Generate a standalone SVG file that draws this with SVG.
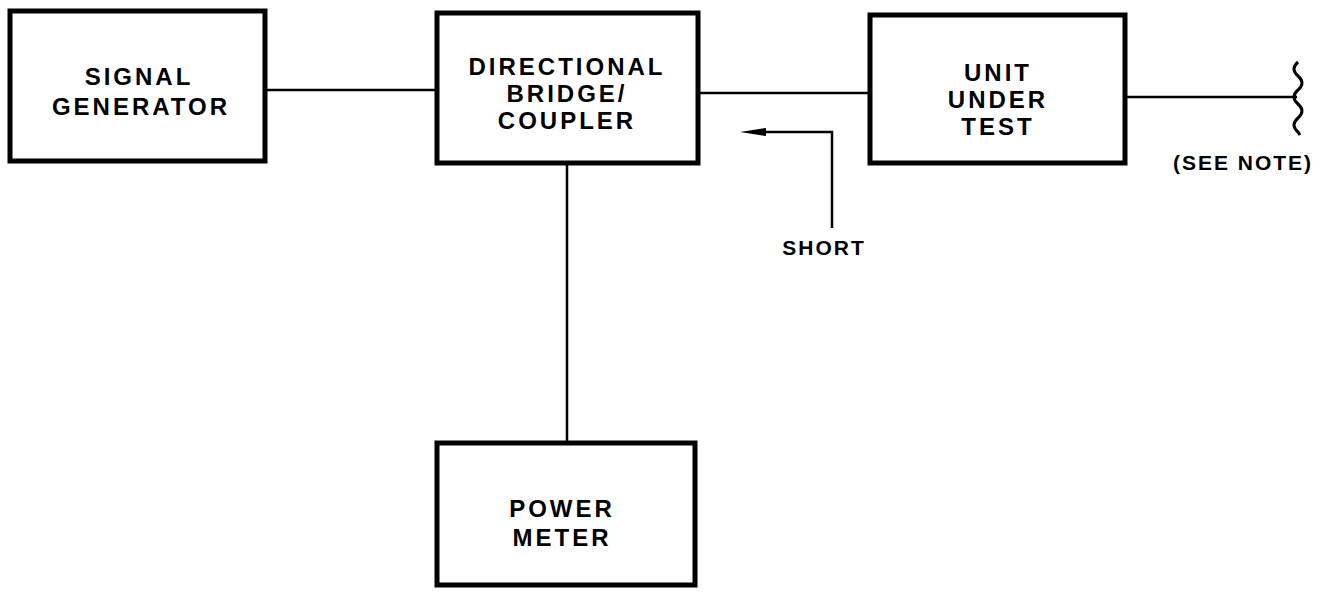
<svg xmlns="http://www.w3.org/2000/svg" width="1327" height="597" viewBox="0 0 1327 597">
<style>
.box{fill:#fff;stroke:#000;stroke-width:5}
.lbl{font-family:"Liberation Sans",Arial,sans-serif;font-weight:bold;font-size:24px;letter-spacing:3px;text-anchor:middle;fill:#000}
.sm{font-family:"Liberation Sans",Arial,sans-serif;font-weight:bold;font-size:21px;letter-spacing:2px;text-anchor:middle;fill:#000}
.wire{fill:none;stroke:#000;stroke-width:2.5}
</style>
<rect width="1327" height="597" fill="#fff"/>
<g id="connectors">
<line class="wire" x1="265" y1="90" x2="437" y2="90"/>
<line class="wire" x1="698" y1="93" x2="870" y2="93"/>
<line class="wire" x1="567" y1="163" x2="567" y2="443"/>
<line class="wire" x1="1125" y1="97" x2="1297" y2="97"/>
<path class="wire" d="M832,228 L832,132 L760,132"/>
<path d="M740,132 L766,128 L766,136 Z" fill="#000"/>
<path class="wire" style="stroke-width:3" d="M1298,62 Q1290,69 1298,76 Q1306,83 1298,90 Q1290,97 1298,104 Q1306,111 1298,118 Q1290,125 1298,132 L1300,135"/>
</g>
<g id="signal-generator">
<rect class="box" x="10" y="11" width="255" height="150"/>
<text class="lbl" x="139" y="85">SIGNAL</text>
<text class="lbl" x="141" y="115">GENERATOR</text>
</g>
<g id="directional-bridge">
<rect class="box" x="437" y="13" width="261" height="150"/>
<text class="lbl" x="567" y="75">DIRECTIONAL</text>
<text class="lbl" x="567" y="102">BRIDGE/</text>
<text class="lbl" x="567" y="129">COUPLER</text>
</g>
<g id="unit-under-test">
<rect class="box" x="870" y="15" width="255" height="148"/>
<text class="lbl" x="998" y="81">UNIT</text>
<text class="lbl" x="998" y="108">UNDER</text>
<text class="lbl" x="998" y="135">TEST</text>
</g>
<g id="power-meter">
<rect class="box" x="437" y="443" width="258" height="142"/>
<text class="lbl" x="562" y="517">POWER</text>
<text class="lbl" x="562" y="546">METER</text>
</g>
<g id="short-label">
<text class="sm" x="824" y="255">SHORT</text>
</g>
<g id="see-note">
<text class="sm" x="1243" y="170">(SEE NOTE)</text>
</g>
</svg>
